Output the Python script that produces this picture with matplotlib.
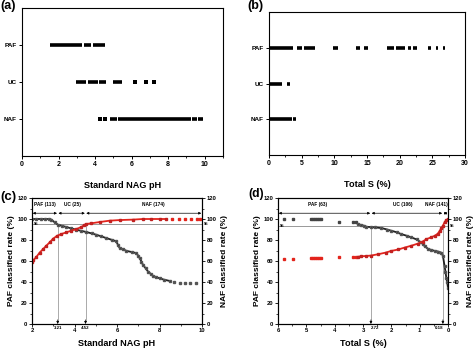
import matplotlib
matplotlib.use('Agg')
import matplotlib.pyplot as plt
from matplotlib.ticker import MultipleLocator

plt.rcParams['font.family'] = ['Liberation Sans', 'DejaVu Sans']
plt.rcParams['font.weight'] = 'bold'
plt.rcParams['axes.linewidth'] = 0.8

# ---- (a) standard NAG pH per class: dense runs (start, end) and lone samples
classes = ['NAF', 'UC', 'PAF']
paf_ph_runs = [(1.55, 3.3), (3.4, 3.8), (3.9, 4.55)]
uc_ph_runs = [(2.95, 3.5), (3.6, 4.15), (4.2, 4.62), (4.99, 5.45)]
uc_ph_points = [6.17, 6.78, 7.2]
naf_ph_runs = [(4.82, 5.2), (5.28, 9.25), (9.3, 9.6), (9.65, 9.88)]
naf_ph_points = [4.26, 4.55]

# ---- (b) total S (%) per class
paf_s_runs = [(0.0, 3.7), (4.3, 5.1), (5.3, 7.0), (9.8, 10.6), (13.3, 13.9),
              (14.5, 15.1), (18.1, 19.1), (19.5, 20.8), (21.2, 21.7),
              (22.0, 22.6), (24.4, 24.8), (25.6, 25.9), (26.6, 27.0)]
uc_s_runs = [(0.0, 2.0), (2.8, 3.2)]
naf_s_runs = [(0.0, 3.56), (3.7, 4.2)]

# ---- (c) classified rate vs standard NAG pH cut-off
nag_paf_x = [2.0, 2.2, 2.4, 2.6, 2.8, 2.9, 3.07, 3.22, 3.4, 3.62, 3.85, 4.09,
             4.3, 4.56, 4.8, 5.03, 5.25, 5.5, 5.75, 5.97, 6.05, 6.13, 6.3,
             6.44, 6.7, 6.91, 7.0, 7.07, 7.15, 7.22, 7.35, 7.46, 7.6, 7.69,
             7.85, 8.0, 8.2, 8.48]
nag_paf_y = [100, 100, 100, 100, 100, 99.5, 96.8, 94.6, 93.5, 92.4, 91, 89.8,
             88.8, 87.6, 86.3, 85, 83.5, 81.8, 80.2, 78.7, 75, 72.3, 71,
             69.7, 68.5, 67.5, 65, 62.7, 59.5, 56.4, 53, 50, 47.5, 45.9,
             44.5, 43.6, 42.3, 41]
nag_paf_tail_x = [8.7, 8.95, 9.2, 9.45, 9.73]
nag_paf_tail_y = [40.3, 39.5, 39.3, 39.2, 39.2]
nag_naf_x = [2.0, 2.05, 2.2, 2.36, 2.52, 2.67, 2.83, 2.99, 3.18, 3.38, 3.62,
             3.85, 4.09, 4.32, 4.45, 4.53, 4.79, 5.18, 5.65, 6.13, 6.75, 7.22,
             7.6, 8.0, 8.3]
nag_naf_y = [59, 60.5, 63.7, 68, 71.3, 74.5, 77.7, 81.2, 84, 85.7, 87.3,
             88.9, 90.4, 92.4, 94, 95.2, 95.9, 97.1, 98.4, 99, 99.4, 100,
             100, 100, 100]
nag_naf_tail_x = [8.6, 8.9, 9.2, 9.5, 9.75, 9.9]
nag_naf_tail_y = [100, 100, 100, 100, 100, 100]
nag_cuts = [3.21, 4.52]
nag_zones = ['PAF (113)', 'UC (25)', 'NAF (174)']
nag_zone_x = [2.6, 3.9, 7.7]

# ---- (d) classified rate vs total S cut-off
ts_sparse_x = [5.79, 5.47, 4.82, 4.75, 4.68, 4.61, 4.54, 4.47, 3.85, 3.35, 3.26]
ts_paf_sparse_y = [100, 100, 100, 100, 100, 100, 100, 100, 96.8, 97.6, 97.6]
ts_naf_sparse_y = [61.5, 61.5, 62.5, 62.6, 62.8, 63, 63.2, 63.3, 64, 63.5, 63.8]
ts_paf_x = [3.18, 3.06, 2.95, 2.88, 2.72, 2.59, 2.35, 2.15, 2.0, 1.8, 1.65,
            1.45, 1.29, 1.1, 1.0, 0.9, 0.82, 0.7, 0.59, 0.45, 0.35, 0.24,
            0.18, 0.12, 0.09, 0.06, 0.03, 0.0]
ts_paf_y = [95.2, 94.2, 93.5, 92.6, 92.3, 92, 91.4, 90, 88.8, 87.3, 85.6,
            84, 82.4, 80.5, 78.5, 76.5, 74, 71.5, 70.5, 69.5, 69, 68,
            65, 55, 50, 44, 40, 34.3]
ts_naf_x = [3.18, 3.06, 2.88, 2.72, 2.47, 2.2, 2.0, 1.75, 1.53, 1.3, 1.06,
            0.9, 0.76, 0.6, 0.47, 0.36, 0.29, 0.24, 0.18, 0.12, 0.06, 0.0]
ts_naf_y = [64, 64.5, 64.8, 65.2, 66.4, 68, 69.6, 71, 72.8, 74.5, 76.6,
            78.5, 80.8, 82.5, 84, 86, 88.8, 91, 93.6, 97, 99, 100]
ts_cuts = [2.72, 0.18]
ts_zones = ['PAF (63)', 'UC (106)', 'NAF (141)']
ts_zone_x = [4.6, 1.6, 0.42]

RED = '#e3241c'
DARK = '#1e1e1e'

fig = plt.figure(figsize=(4.74, 3.48), dpi=100)
W, H = 474.0, 348.0


def box(l, t, r, b):
    return [l / W, 1 - b / H, (r - l) / W, (b - t) / H]


def class_panel(ax, runs, points, xmax, major, minor):
    for row, rr in enumerate(runs):
        ax.hlines([row + 1] * len(rr), [a for a, _ in rr], [b for _, b in rr],
                  color='k', lw=2.6)
    for row, pp in enumerate(points):
        if pp:
            ax.scatter(pp, [row + 1] * len(pp), marker='s', s=6.5, c='k',
                       linewidths=0)
    ax.set_xlim(0, xmax)
    ax.set_ylim(0, 4)
    ax.set_yticks([1, 2, 3])
    ax.set_yticklabels(classes)
    ax.xaxis.set_major_locator(MultipleLocator(major))
    ax.xaxis.set_minor_locator(MultipleLocator(minor))
    ax.tick_params(axis='x', labelsize=5, length=2.2, width=0.7, pad=1.5)
    ax.tick_params(axis='x', which='minor', length=1.3, width=0.6)
    ax.tick_params(axis='y', labelsize=4.6, length=2.2, width=0.7, pad=1.5)


axa = fig.add_axes(box(22, 8, 223, 156))
class_panel(axa, [naf_ph_runs, uc_ph_runs, paf_ph_runs],
            [naf_ph_points, uc_ph_points, []], 11, 2, 1)
axa.set_xlabel('Standard NAG pH', fontsize=6.6, fontweight='bold', labelpad=9)

axb = fig.add_axes(box(269, 12, 465, 155))
class_panel(axb, [naf_s_runs, uc_s_runs, paf_s_runs], [[], [], []], 30, 5, 2.5)
axb.set_xlabel('Total S (%)', fontsize=6.6, fontweight='bold', labelpad=9)


def rate_panel(ax, paf, paf_tail, naf, naf_tail, cuts, cut_align, zones,
               zone_x, xlim, line95):
    ax.plot(paf[0], paf[1], color=DARK, lw=1.3, marker='s', ms=1.6,
            mec='#555555', mfc=DARK, zorder=3)
    ax.plot(paf_tail[0], paf_tail[1], ls='none', marker='s', ms=1.6,
            color='#555555', zorder=3)
    ax.plot(naf[0], naf[1], color=RED, lw=1.3, marker='s', ms=1.6,
            mec='#c02020', zorder=3)
    ax.plot(naf_tail[0], naf_tail[1], ls='none', marker='s', ms=1.6,
            color=RED, zorder=3)
    ax.set_xlim(*xlim)
    ax.set_ylim(0, 120)
    ax.axhline(line95, color='#888888', lw=0.6)
    for c, al in zip(cuts, cut_align):
        ax.plot([c, c], [line95, 3], color='#888888', lw=0.5)
        ax.annotate('', xy=(c, 0), xytext=(c, 4),
                    arrowprops=dict(arrowstyle='-|>', color='k', lw=0.5,
                                    mutation_scale=3.5, shrinkA=0, shrinkB=0))
        ax.text(c, -2.2, '%.2f' % c, ha=al, va='top', fontsize=3.2,
                fontweight='bold')
    edges = [xlim[0]] + cuts + [xlim[1]]
    for i, (name, zx) in enumerate(zip(zones, zone_x)):
        ax.annotate('', xy=(edges[i + 1], 105.5), xytext=(edges[i], 105.5),
                    arrowprops=dict(arrowstyle='<|-|>', color='k', lw=0.5,
                                    mutation_scale=3.5, shrinkA=0.5,
                                    shrinkB=0.5))
        ax.text(zx, 113.5, name, ha='center', va='center', fontsize=3.4,
                fontweight='bold')
    ax.text(xlim[0] + (xlim[1] - xlim[0]) * 0.012, line95, '95', ha='left',
            va='center', fontsize=3, fontweight='bold')
    ax.yaxis.set_major_locator(MultipleLocator(20))
    ax.yaxis.set_minor_locator(MultipleLocator(10))
    ax.tick_params(axis='both', labelsize=4.2, length=2, width=0.6, pad=1.2)
    ax.tick_params(axis='both', which='minor', length=1.1, width=0.5)
    ax.set_ylabel('PAF classified rate (%)', fontsize=6, fontweight='bold',
                  labelpad=2)
    ax2 = ax.twinx()
    ax2.set_ylim(0, 120)
    ax2.yaxis.set_major_locator(MultipleLocator(20))
    ax2.yaxis.set_minor_locator(MultipleLocator(10))
    ax2.tick_params(axis='y', labelsize=4.2, length=2, width=0.6, pad=1.2)
    ax2.tick_params(axis='y', which='minor', length=1.1, width=0.5)
    ax2.set_ylabel('NAF classified rate (%)', fontsize=6, fontweight='bold',
                   labelpad=3)
    ax2.text(1.012, line95 / 120, '95', transform=ax2.transAxes, ha='left',
             va='center', fontsize=3, fontweight='bold')
    return ax2


axc = fig.add_axes(box(32, 198, 202, 324))
rate_panel(axc, (nag_paf_x, nag_paf_y), (nag_paf_tail_x, nag_paf_tail_y),
           (nag_naf_x, nag_naf_y), (nag_naf_tail_x, nag_naf_tail_y),
           nag_cuts, ['center', 'center'], nag_zones, nag_zone_x, (2, 10), 95)
axc.xaxis.set_major_locator(MultipleLocator(2))
axc.xaxis.set_minor_locator(MultipleLocator(1))
axc.set_xlabel('Standard NAG pH', fontsize=6.6, fontweight='bold', labelpad=4)

axd = fig.add_axes(box(278, 198, 448, 324))
axd.plot(ts_sparse_x, ts_paf_sparse_y, ls='none', marker='s', ms=1.5,
         color='#444444', zorder=3)
axd.plot(ts_sparse_x, ts_naf_sparse_y, ls='none', marker='s', ms=1.5,
         color=RED, zorder=3)
rate_panel(axd, (ts_paf_x, ts_paf_y), ([], []), (ts_naf_x, ts_naf_y),
           ([], []), ts_cuts, ['left', 'right'], ts_zones, ts_zone_x, (6, 0),
           93.5)
axd.xaxis.set_major_locator(MultipleLocator(1))
axd.xaxis.set_minor_locator(MultipleLocator(0.5))
axd.set_xlabel('Total S (%)', fontsize=6.6, fontweight='bold', labelpad=4)

fig.text(0.0, 1 - 6 / H, '(a)', fontsize=9, fontweight='bold', va='center')
fig.text(247 / W, 1 - 6 / H, '(b)', fontsize=9, fontweight='bold', va='center')
fig.text(0.0, 1 - 197 / H, '(c)', fontsize=9.5, fontweight='bold', va='center')
fig.text(248 / W, 1 - 194 / H, '(d)', fontsize=8.8, fontweight='bold',
         va='center')

fig.savefig('out.png', dpi=100)
